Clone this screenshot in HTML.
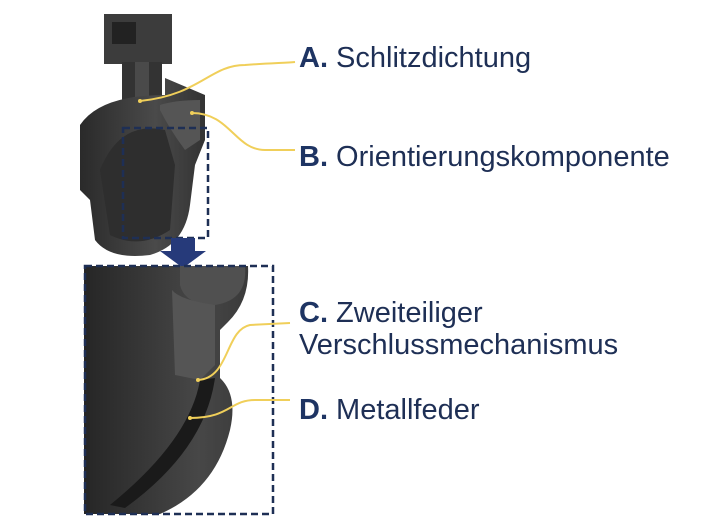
<!DOCTYPE html>
<html><head><meta charset="utf-8"><style>
html,body{margin:0;padding:0;background:#fff;width:701px;height:524px;overflow:hidden}
.t{position:absolute;font-family:"Liberation Sans",sans-serif;font-size:29px;color:#1e2f55;white-space:nowrap;line-height:30px}
.t b{color:#1e3463}
</style></head><body>
<svg width="701" height="524" style="position:absolute;left:0;top:0">
<defs>
<linearGradient id="g1" x1="0" x2="1"><stop offset="0" stop-color="#2a2a2a"/><stop offset="0.6" stop-color="#4a4a4a"/><stop offset="1" stop-color="#333"/></linearGradient>
<linearGradient id="g2" x1="0" x2="1"><stop offset="0" stop-color="#262626"/><stop offset="0.7" stop-color="#474747"/><stop offset="1" stop-color="#3a3a3a"/></linearGradient>
</defs>
<rect x="104" y="14" width="68" height="50" fill="#3c3c3c"/>
<rect x="112" y="22" width="24" height="22" fill="#222"/>
<rect x="122" y="62" width="40" height="45" fill="#333"/>
<rect x="135" y="62" width="14" height="45" fill="#4a4a4a"/>
<path d="M80 125 Q100 95 165 95 L165 78 L205 95 L205 140 L195 165 L190 205 Q185 245 150 255 Q110 260 95 240 L90 200 L80 190 Z" fill="url(#g1)"/>
<path d="M160 105 Q175 100 200 100 L200 140 L185 150 Q170 130 160 110 Z" fill="#555"/>
<path d="M100 170 Q120 120 165 130 L175 165 L170 230 Q140 250 110 235 Z" fill="#2e2e2e"/>
<rect x="123" y="128" width="85" height="110" fill="none" stroke="#1e2f55" stroke-width="2.5" stroke-dasharray="7,4"/>
<path d="M171 238 H195 V251 H206 L183 268 L160 251 H171 Z" fill="#263a7a"/>
<path d="M140 101 C200 95 210 65 245 65 C270 63 285 63 295 62" fill="none" stroke="#f0cf5a" stroke-width="2"/>
<path d="M192 113 C230 113 235 150 265 150 L295 150" fill="none" stroke="#f0cf5a" stroke-width="2"/>
<circle cx="140" cy="101" r="2" fill="#f0cf5a"/><circle cx="192" cy="113" r="2" fill="#f0cf5a"/>
<path d="M84 266 H248 Q250 300 228 322 L220 330 L220 378 Q238 395 230 430 Q215 490 160 514 H84 Z" fill="url(#g2)"/>
<path d="M180 266 H245 Q248 300 215 305 Q185 305 180 285 Z" fill="#505050"/>
<path d="M172 290 Q180 300 215 305 L215 365 L200 380 L175 375 Z" fill="#555"/>
<path d="M200 380 Q190 440 110 505 L125 508 Q205 450 215 378 Z" fill="#1a1a1a"/>
<rect x="85" y="266" width="188" height="248" fill="none" stroke="#1e2f55" stroke-width="2.5" stroke-dasharray="7,4"/>
<path d="M198 380 C230 378 225 330 250 325 L290 323" fill="none" stroke="#f0cf5a" stroke-width="2"/>
<path d="M190 418 C230 418 230 400 255 400 L290 400" fill="none" stroke="#f0cf5a" stroke-width="2"/>
<circle cx="198" cy="380" r="2" fill="#f0cf5a"/><circle cx="190" cy="418" r="2" fill="#f0cf5a"/>
</svg>
<div class="t" style="left:299px;top:43px"><b>A.</b> Schlitzdichtung</div>
<div class="t" style="left:299px;top:142px"><b>B.</b> Orientierungskomponente</div>
<div class="t" style="left:299px;top:298px"><b>C.</b> Zweiteiliger</div>
<div class="t" style="left:299px;top:330px">Verschlussmechanismus</div>
<div class="t" style="left:299px;top:395px"><b>D.</b> Metallfeder</div>
</body></html>
